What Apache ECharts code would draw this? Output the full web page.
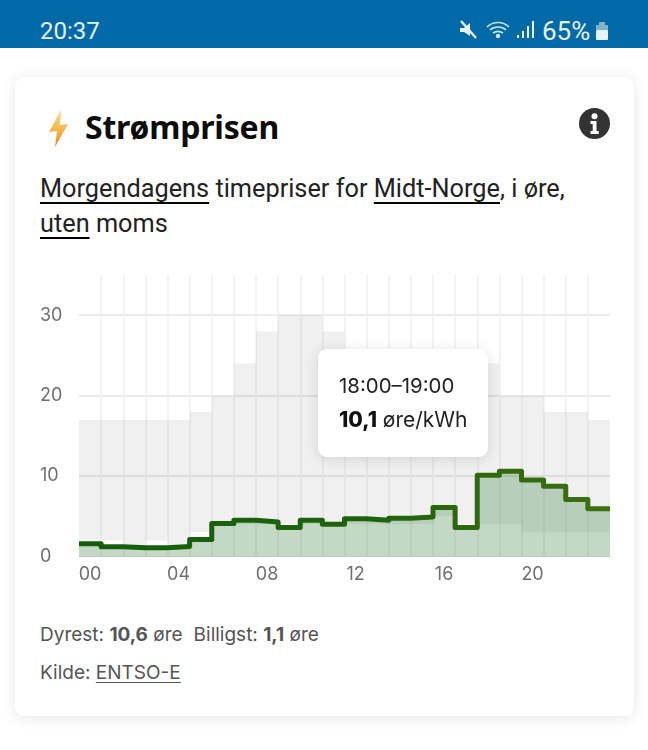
<!DOCTYPE html>
<html lang="no">
<head>
<meta charset="utf-8">
<title>Strømprisen</title>
<script src="https://cdn.jsdelivr.net/npm/echarts@6/dist/echarts.min.js"></script>
<style>
html,body{margin:0;padding:0;width:648px;height:750px;background:#fff;overflow:hidden}
.abs{position:absolute}
#status{left:0;top:0;width:648px;height:48px;background:#0069a6;color:#e6f2f8;font-family:Roboto,sans-serif}
#time{left:40px;top:16px;font-size:24px;line-height:30px}
#pct{left:542px;top:16px;font-size:26px;line-height:30px}
#card{left:15px;top:77px;width:619px;height:639px;border-radius:9px;background:#fff;box-shadow:0 2px 14px rgba(0,0,0,.10)}
#head{left:85px;top:105px;font:700 32px/44px "Noto Sans",sans-serif;color:#0c0c0c;letter-spacing:-.2px}
#sub{left:40px;top:171px;width:560px;font:400 25.3px/35px Roboto,sans-serif;color:#222}
#sub u,#src u{text-underline-offset:5px;text-decoration-thickness:2px}
#sub u{text-decoration-color:#000}
#stats,#src{left:40px;font:400 19px/26px Inter,sans-serif;color:#555}
#stats{top:622px}
#stats .gap{display:inline-block;width:11px}
#src{top:660px}
#src u{text-decoration-thickness:1px;text-underline-offset:3px}
#chart{left:0;top:260px;width:648px;height:340px}
</style>
</head>
<body>
<div id="status" class="abs">
  <div id="time" class="abs">20:37</div>
  <svg class="abs" style="left:458px;top:20px" width="20" height="20" viewBox="0 0 20 20"><path d="M2 8h4l6-5v13l-6-4H2z" fill="#e6f2f8"/><path d="M3 1l15 17" stroke="#e6f2f8" stroke-width="2.4"/></svg>
  <svg class="abs" style="left:486px;top:20px" width="28" height="22" viewBox="0 0 28 22" fill="none" stroke="#cfe3ee" stroke-width="1.6"><path d="M1 7c6-6 16-6 22 0M4 10c4-4 12-4 16 0M7 13c3-2 7-2 10 0"/><circle cx="12" cy="16" r="1.4" fill="#cfe3ee"/></svg>
  <svg class="abs" style="left:515px;top:20px" width="22" height="20" viewBox="0 0 22 20" fill="#e6f2f8"><rect x="2" y="15" width="2" height="3"/><rect x="7" y="11" width="2" height="7"/><rect x="12" y="6" width="2" height="12"/><rect x="17" y="1" width="2" height="17"/></svg>
  <div id="pct" class="abs">65%</div>
  <svg class="abs" style="left:595px;top:22px" width="14" height="20" viewBox="0 0 14 20"><rect x="4" y="0" width="6" height="3" fill="#7fb1cf"/><rect x="1" y="3" width="12" height="5" fill="#7fb1cf"/><rect x="1" y="8" width="12" height="10" rx="1" fill="#e6f2f8"/></svg>
</div>
<div id="card" class="abs"></div>
<svg class="abs" style="left:46px;top:109px" width="26" height="40" viewBox="0 0 26 40"><defs><linearGradient id="b" x1="0" y1="0" x2="0" y2="1"><stop offset="0" stop-color="#f8d98a"/><stop offset=".6" stop-color="#f3b24a"/><stop offset="1" stop-color="#d98a20"/></linearGradient></defs><path d="M15 1L3 23l8-1-2 16 13-23-8 1z" fill="url(#b)"/></svg>
<div id="head" class="abs">Strømprisen</div>
<svg class="abs" style="left:579px;top:108px" width="31" height="31" viewBox="0 0 31 31"><circle cx="15.5" cy="15.5" r="15.5" fill="#333"/><circle cx="15.5" cy="8.2" r="3" fill="#fff"/><path d="M11.5 13h6v10h2.2v3H11.5v-3h2.2v-7h-2.2z" fill="#fff"/></svg>
<div id="sub" class="abs"><u>Morgendagens</u> timepriser for <u>Midt-Norge</u>, i øre, <u>uten</u> moms</div>
<div id="chart" class="abs"></div>
<div id="stats" class="abs">Dyrest: <b>10,6</b> øre<span class="gap"></span>Billigst: <b>1,1</b> øre</div>
<div id="src" class="abs">Kilde: <u>ENTSO-E</u></div>
<script>
const hours = ['00','01','02','03','04','05','06','07','08','09','10','11','12','13','14','15','16','17','18','19','20','21','22','23'];
const price = [1.6,1.2,1.1,1.1,1.25,2.1,4.1,4.5,4.3,3.6,4.5,4.0,4.7,4.5,4.75,4.9,6.1,3.6,10.1,10.6,9.5,8.75,7.1,5.95];
const rangeLow = [2,2,1,2,1,3,4,4,4,4,4,4,4,4,4,4,5,4,4,4,3,3,3,3];
const rangeHigh = [17,17,17,17,17,18,20,24,28,30,30,28,24,22,21,21,21,22,24,20,20,18,18,17];
const yTicks = {min:0,max:35,interval:10};
const selectedHour = 18;

const stepPts = price.map((v,i)=>[i,v]);
stepPts.push([price.length, price[price.length-1]]);
const pad = n => String(n).padStart(2,'0');

const chart = echarts.init(document.getElementById('chart'),null,{renderer:'canvas'});
chart.setOption({
  animation:false,
  grid:{left:79,right:38,top:15,height:281.5,containLabel:false},
  xAxis:[
    {type:'category',data:hours,boundaryGap:true,
     axisLine:{show:true,lineStyle:{color:'#d4d8d2',width:1}},axisTick:{show:false},
     axisLabel:{interval:3,margin:9,fontFamily:'Inter',fontSize:18,color:'#707070'},
     splitLine:{show:true,interval:0,showMinLine:false,showMaxLine:false,lineStyle:{color:'#efefef',width:1.5}}},
    {type:'value',min:0,max:hours.length,show:false,splitLine:{show:false}}
  ],
  yAxis:{type:'value',min:yTicks.min,max:yTicks.max,interval:yTicks.interval,
     axisLine:{show:false},axisTick:{show:false},
     axisLabel:{showMaxLabel:false,align:'left',margin:39,fontFamily:'Inter',fontSize:18,color:'#707070'},
     splitLine:{show:true,showMinLine:false,showMaxLine:false,lineStyle:{color:'#ebebeb',width:2}}},
  tooltip:{show:true,trigger:'item',triggerOn:'none',alwaysShowContent:true,transitionDuration:0,
     position:[318,89],backgroundColor:'#fff',borderWidth:0,padding:0,
     extraCssText:'box-shadow:0 2px 14px rgba(0,0,0,.12);border-radius:9px;width:170px;height:108px;box-sizing:border-box;padding:20px 0 0 21px;',
     formatter:p=>{
       const h=p.dataIndex;
       const v=String(price[h]).replace('.',',');
       return `<div style="font:400 20.4px/34px Inter,sans-serif;color:#222">${pad(h)}:00–${pad(h+1)}:00</div>`+
              `<div style="font:400 21px/34px Inter,sans-serif;color:#222"><b style="color:#111;font-weight:800">${v}</b> øre/kWh</div>`;
     }},
  series:[
    {name:'base',type:'bar',stack:'r',barWidth:'100%',data:rangeLow,itemStyle:{color:'rgba(0,0,0,0)'},silent:true,z:1},
    {name:'range',type:'bar',stack:'r',barWidth:'100%',data:rangeHigh.map((h,i)=>h-rangeLow[i]),itemStyle:{color:'rgba(0,0,0,0.06)'},z:1},
    {name:'pris',type:'line',xAxisIndex:1,step:'end',data:stepPts,showSymbol:false,z:3,
     lineStyle:{width:5,join:'round',cap:'butt',color:new echarts.graphic.LinearGradient(0,0,1,0,[{offset:0,color:'#145e0c'},{offset:.55,color:'#1f630c'},{offset:1,color:'#406f12'}])},
     areaStyle:{opacity:1,color:'rgba(15,105,25,0.25)'}}
  ]
});
chart.dispatchAction({type:'showTip',seriesIndex:1,dataIndex:selectedHour});
</script>
</body>
</html>
